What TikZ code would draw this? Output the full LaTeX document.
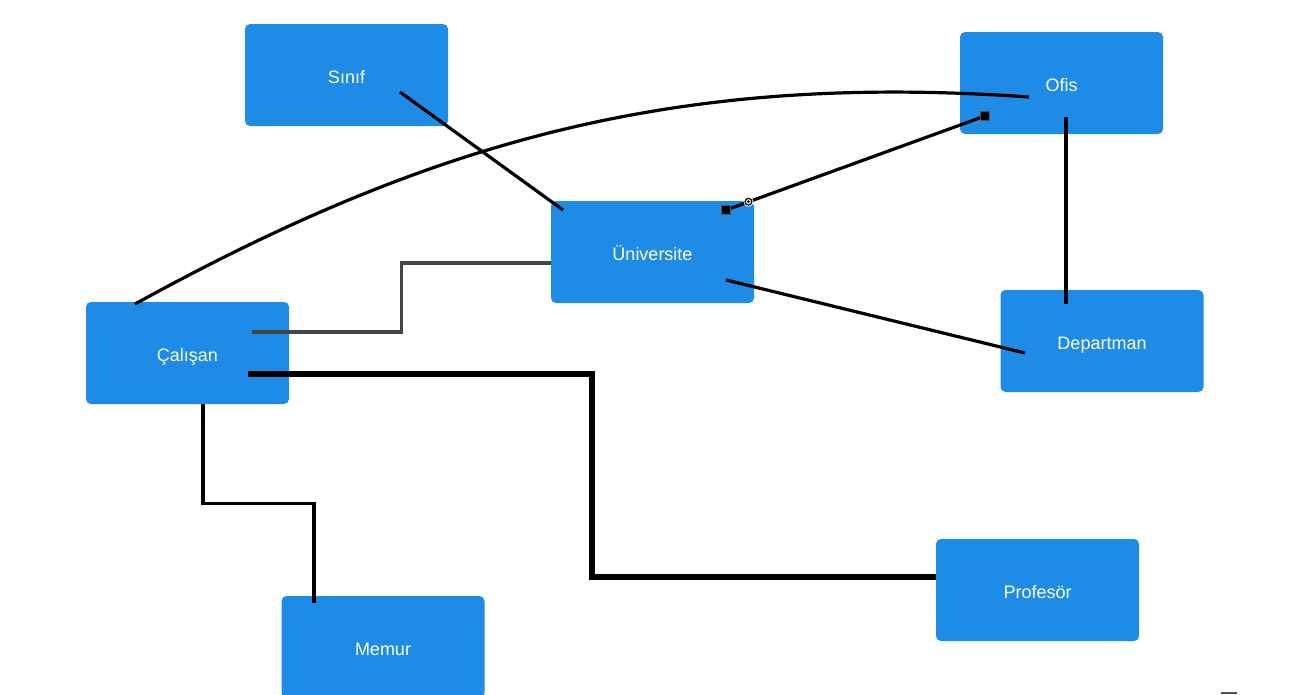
\documentclass[tikz,border=0pt]{standalone}
\usepackage{fontspec}
\setmainfont{Liberation Sans}
\usetikzlibrary{calc}
\definecolor{boxblue}{HTML}{1E8BE6}
\definecolor{linkgrey}{HTML}{444444}
\definecolor{handlegrey}{HTML}{555555}
\begin{document}
\begin{tikzpicture}[x=1pt,y=-1pt,
  entity/.style={fill=boxblue, rounded corners=5pt, minimum width=203pt,
    minimum height=102pt, inner sep=0pt, text=white,
    text height=17.5pt, text depth=0pt,
    font=\fontsize{18}{22}\selectfont},
  link/.style={line width=3.2pt, draw=black},
  greylink/.style={line width=3.2pt, draw=linkgrey},
  heavylink/.style={line width=6pt, draw=black},
  endmark/.style={fill=black, draw=handlegrey, line width=1pt,
    minimum size=9.5pt, inner sep=0pt}]
\useasboundingbox (0,0) rectangle (1313,694);

% entities
\node[entity] (sinif) at (346.5,75)  {Sınıf};
\node[entity] (ofis)  at (1061.5,83) {Ofis};
\node[entity] (uni)   at (652.5,252) {Üniversite};
\node[entity] (cal)   at (187.5,353) {Çalışan};
\node[entity] (dep)   at (1102,341)  {Departman};
\node[entity] (prof)  at (1037.5,590){Profesör};
\node[entity] (memur) at (383,647)   {Memur};

% connector end points
\coordinate (sU) at (400,92);   \coordinate (uS) at (563,210);
\coordinate (cO) at (135,304);  \coordinate (oC) at (1029,97);
\coordinate (oU) at (985,116);  \coordinate (uO) at (726,210);
\coordinate (oD) at (1066,117); \coordinate (dO) at (1066,304);
\coordinate (uD) at (726,280);  \coordinate (dU) at (1025,353);
\coordinate (cU) at (252,332);  \coordinate (uC) at (551,263);
\coordinate (cP) at (248,374);  \coordinate (pC) at (936,577);
\coordinate (cM) at (203,404);  \coordinate (mC) at (314,603);
\coordinate (probe) at (748.5,201.7);

% connectors
\draw[link] (sU) -- (uS);
\draw[link] (cO) .. controls (435,139) and (679,72.5) .. (oC);
\draw[link] (oU) -- (uO);
\draw[link] (oD) -- (dO);
\draw[link] (uD) -- (dU);
\draw[greylink] (cU) -| ($(cU)!.5!(uC)$) |- (uC);
\draw[heavylink] (cP) -| ($(cP)!.5!(pC)$) |- (pC);
\draw[link] (cM) |- ($(cM)!.5!(mC)$) -| (mC);

% selection handles on the Ofis--Üniversite link
\node[endmark] at (oU) {};
\node[endmark] at (uO) {};
\fill[white] (probe) circle (5pt);
\draw[black, line width=1.2pt] (probe) circle (3.4pt);
\fill[black] (probe) circle (1.5pt);

% edge of a handle at the lower border
\fill[handlegrey] (1221,692) rectangle (1237,694);
\end{tikzpicture}
\end{document}
